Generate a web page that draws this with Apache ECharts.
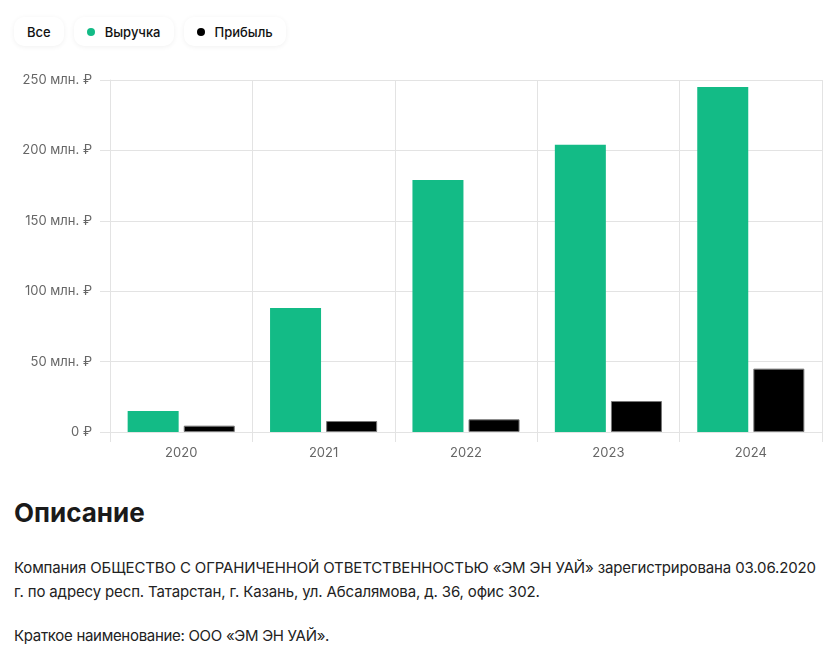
<!DOCTYPE html>
<html lang="ru">
<head>
<meta charset="UTF-8">
<title>Выручка и прибыль</title>
<style>
  * { margin: 0; padding: 0; box-sizing: border-box; }
  body { background: #fff; font-family: Inter, Roboto, "Noto Sans", sans-serif; color: #111; width: 840px; height: 661px; overflow: hidden; position: relative; }
  .pills { position: absolute; left: 14px; top: 17px; display: flex; gap: 10px; }
  .pill { height: 29px; padding: 0 13px; border-radius: 10px; background: #fff; box-shadow: 0 1px 5px rgba(0,0,0,0.06); font-size: 13px; font-weight: 500; display: flex; align-items: center; cursor: pointer; }
  .pill .dot { width: 8px; height: 8px; border-radius: 50%; margin-right: 10px; display: inline-block; }
  .mychart { position: absolute; left: 0; top: 60px; width: 840px; height: 412px; }
  h2 { position: absolute; left: 14px; top: 497px; font-size: 26px; font-weight: 700; color: #1a1a1a; }
  .desc { position: absolute; left: 14px; top: 556px; font-size: 15px; line-height: 24px; color: #222; letter-spacing: -0.14px; }
  .short { position: absolute; left: 14px; top: 624px; font-size: 15px; line-height: 24px; color: #222; letter-spacing: -0.3px; }
</style>
</head>
<body>
<div class="pills">
  <div class="pill" data-name="all">Все</div>
  <div class="pill" data-name="Выручка"><span class="dot" style="background:#13bb86"></span>Выручка</div>
  <div class="pill" data-name="Прибыль"><span class="dot" style="background:#000"></span>Прибыль</div>
</div>
<div class="mychart"></div>
<h2>Описание</h2>
<p class="desc">Компания ОБЩЕСТВО С ОГРАНИЧЕННОЙ ОТВЕТСТВЕННОСТЬЮ «ЭМ ЭН УАЙ» зарегистрирована 03.06.2020<br>г. по адресу респ. Татарстан, г. Казань, ул. Абсалямова, д. 36, офис 302.</p>
<p class="short">Краткое наименование: ООО «ЭМ ЭН УАЙ».</p>

<script src="https://cdn.jsdelivr.net/npm/echarts@6/dist/echarts.min.js"></script>
<script>
  // данные, млн. ₽
  const years = ['2020', '2021', '2022', '2023', '2024']
  const revenue = [15, 88, 179, 204, 245]
  const profit = [4.5, 7.8, 9, 22, 45]
  const yTicks = [0, 50, 100, 150, 200, 250]

  const chart = echarts.init(document.querySelector('.mychart'))

  const gridColor = '#e3e3e3'
  const option = {
    animation: false,
    textStyle: { fontFamily: 'Inter, Roboto, sans-serif' },
    legend: { show: false, data: ['Выручка', 'Прибыль'] },
    grid: { left: 110, right: 18, top: 20, bottom: 40 },
    xAxis: {
      type: 'category',
      data: years,
      axisLine: { lineStyle: { color: gridColor } },
      axisTick: { show: true, length: 10, lineStyle: { color: gridColor } },
      splitLine: { show: true, lineStyle: { color: gridColor } },
      axisLabel: { color: '#666', fontSize: 13, margin: 15 }
    },
    yAxis: {
      type: 'value',
      min: yTicks[0],
      max: yTicks[yTicks.length - 1],
      interval: 50,
      axisLine: { show: true, lineStyle: { color: gridColor } },
      axisTick: { show: true, length: 10, lineStyle: { color: gridColor } },
      splitLine: { lineStyle: { color: gridColor } },
      axisLabel: {
        color: '#666', fontSize: 13, margin: 18,
        formatter: v => v === 0 ? '0 ₽' : v + ' млн. ₽'
      }
    },
    series: [
      {
        name: 'Выручка', type: 'bar', data: revenue,
        barWidth: 51, barGap: '10%',
        itemStyle: { color: '#13bb86' }
      },
      {
        name: 'Прибыль', type: 'bar', data: profit,
        barWidth: 51,
        itemStyle: { color: '#000', borderColor: '#777', borderWidth: 1 }
      }
    ]
  }
  chart.setOption(option)

  // кнопки-фильтры
  document.querySelectorAll('.pill').forEach(p => {
    p.addEventListener('click', () => {
      const name = p.dataset.name
      if (name === 'all') {
        chart.dispatchAction({ type: 'legendAllSelect' })
      } else {
        chart.dispatchAction({ type: 'legendToggleSelect', name })
      }
    })
  })
</script>
</body>
</html>
